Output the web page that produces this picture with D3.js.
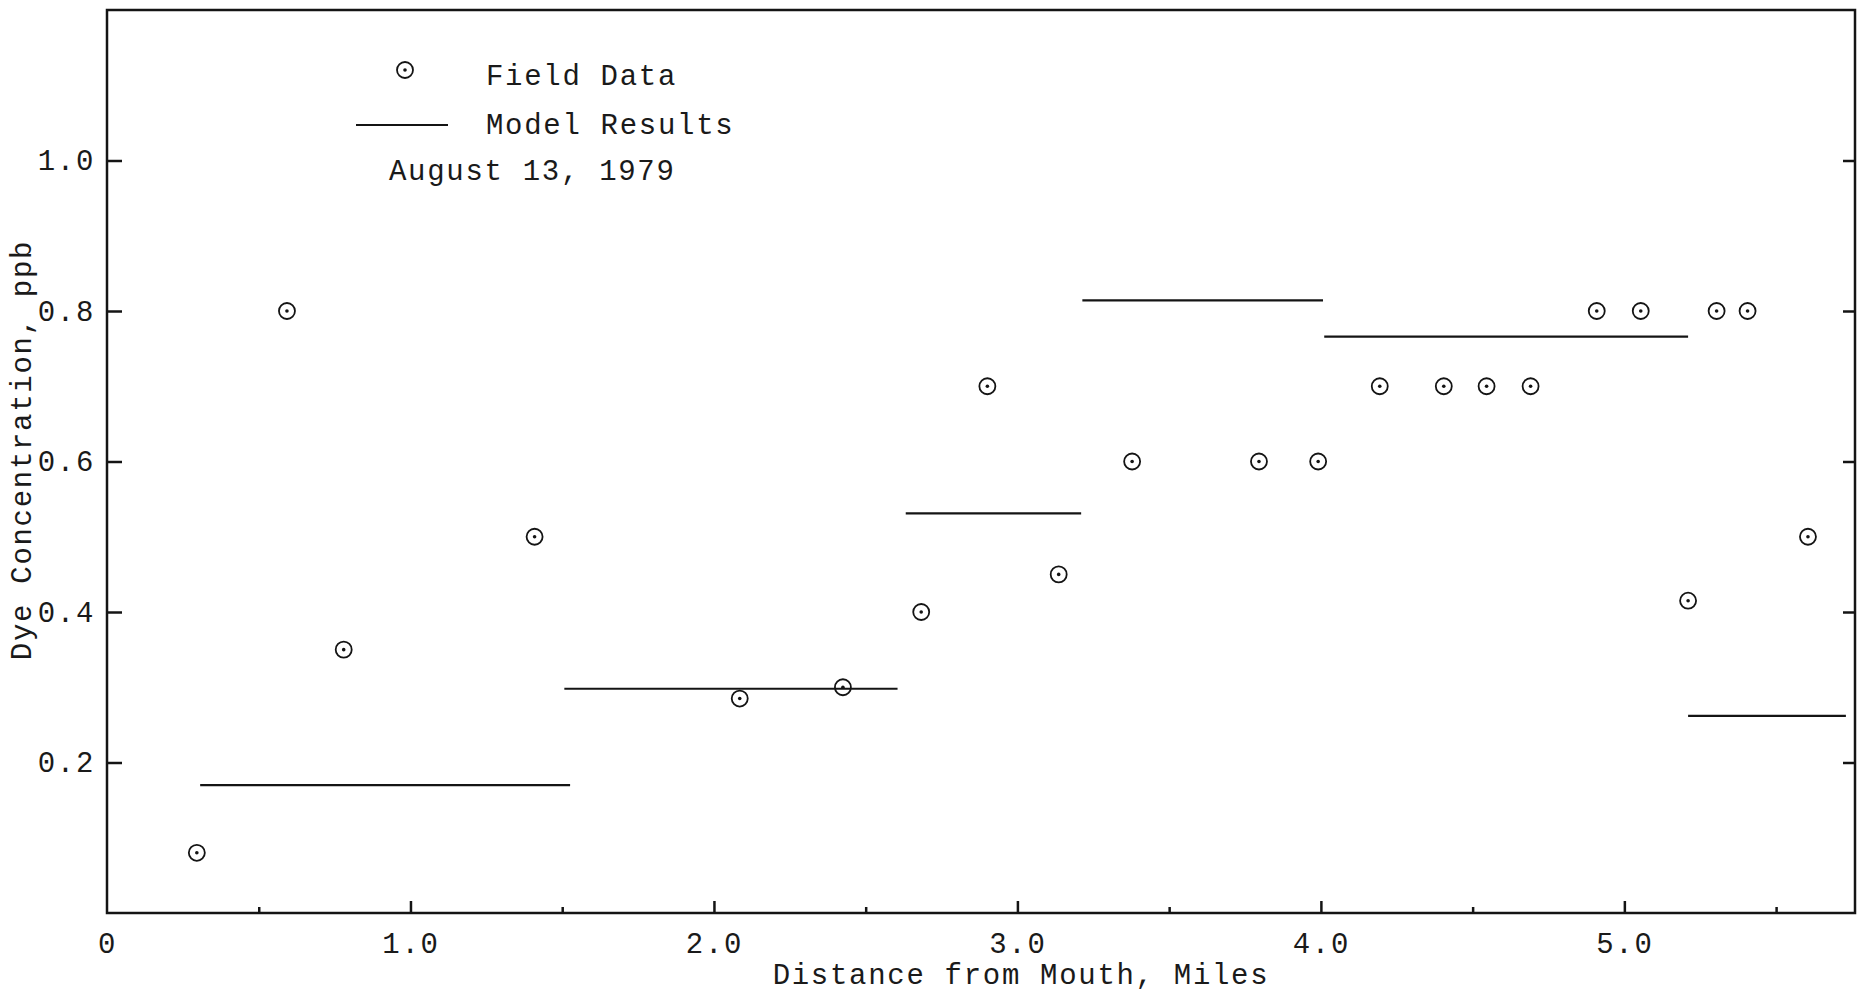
<!DOCTYPE html>
<html>
<head>
<meta charset="utf-8">
<script src="https://cdn.jsdelivr.net/npm/d3@7"></script>
<style>
  html, body { margin: 0; padding: 0; background: #fff; }
  svg { display: block; }
  text { font-family: "Liberation Mono", "DejaVu Sans Mono", monospace; fill: #1a1a1a; }
</style>
</head>
<body>
<svg id="chart" width="1859" height="992"></svg>
<script>
// Dye concentration along the river, August 13, 1979
const fieldMiles = [0.296, 0.593, 0.780, 1.409, 2.085, 2.425, 2.683, 2.901, 3.136, 3.378, 3.796,
                    3.991, 4.194, 4.405, 4.546, 4.691, 4.909, 5.054, 5.210, 5.304, 5.406, 5.605];
const fieldPpb   = [0.08, 0.80, 0.35, 0.50, 0.285, 0.30, 0.40, 0.70, 0.45, 0.60, 0.60,
                    0.60, 0.70, 0.70, 0.70, 0.70, 0.80, 0.80, 0.415, 0.80, 0.80, 0.50];

// Model segments: each constant over a reach of the river
const modelStart = [0.307, 1.507, 2.632, 3.214, 4.011, 5.210];
const modelEnd   = [1.526, 2.605, 3.210, 4.007, 5.210, 5.730];
const modelPpb   = [0.170, 0.298, 0.531, 0.814, 0.766, 0.262];

const xMajorTicks = [0, 1, 2, 3, 4, 5];
const xTickLabels = ["0", "1.0", "2.0", "3.0", "4.0", "5.0"];
const xMinorTicks = [0.5, 1.5, 2.5, 3.5, 4.5, 5.5];
const yTicks = [0.2, 0.4, 0.6, 0.8, 1.0];
const yTickLabels = ["0.2", "0.4", "0.6", "0.8", "1.0"];

(function draw() {
  const svg = d3.select("#chart");
  const pl = 107, pr = 1855, pt = 10, pb = 913;

  const x = d3.scaleLinear().domain([0, 5.76]).range([pl, pr]);
  const y = d3.scaleLinear().domain([0, 1.2]).range([pb, pt]);

  const ink = "#141414";
  const fontSize = "29px";
  const spacing = "1.7px";

  // Frame
  svg.append("rect")
    .attr("x", pl).attr("y", pt)
    .attr("width", pr - pl).attr("height", pb - pt)
    .attr("fill", "none").attr("stroke", ink).attr("stroke-width", 2.5);

  // Bottom axis: major ticks with labels
  const xAxis = d3.axisBottom(x)
    .tickValues(xMajorTicks)
    .tickFormat((d, i) => xTickLabels[i])
    .tickSizeInner(-12).tickSizeOuter(0).tickPadding(19);
  const gx = svg.append("g").attr("transform", `translate(0,${pb})`).call(xAxis);
  gx.select(".domain").remove();
  gx.selectAll(".tick line").attr("stroke", ink).attr("stroke-width", 2.5);
  gx.selectAll(".tick").filter(d => d === 0).select("line").remove();
  gx.selectAll(".tick text").attr("font-size", fontSize).attr("letter-spacing", spacing)
    .attr("fill", ink).attr("font-family", null);

  // Bottom axis: minor ticks
  const xMinor = d3.axisBottom(x).tickValues(xMinorTicks).tickFormat("")
    .tickSizeInner(-6).tickSizeOuter(0);
  const gxm = svg.append("g").attr("transform", `translate(0,${pb})`).call(xMinor);
  gxm.select(".domain").remove();
  gxm.selectAll(".tick line").attr("stroke", ink).attr("stroke-width", 2.5);

  // Left axis
  const yAxis = d3.axisLeft(y)
    .tickValues(yTicks)
    .tickFormat((d, i) => yTickLabels[i])
    .tickSizeInner(-15).tickSizeOuter(0).tickPadding(12);
  const gy = svg.append("g").attr("transform", `translate(${pl},0)`).call(yAxis);
  gy.select(".domain").remove();
  gy.selectAll(".tick line").attr("stroke", ink).attr("stroke-width", 2.5);
  gy.selectAll(".tick text").attr("font-size", fontSize).attr("letter-spacing", spacing)
    .attr("fill", ink).attr("font-family", null);

  // Right axis: mirrored ticks only
  const yRight = d3.axisRight(y).tickValues(yTicks).tickFormat("")
    .tickSizeInner(-12).tickSizeOuter(0);
  const gyr = svg.append("g").attr("transform", `translate(${pr},0)`).call(yRight);
  gyr.select(".domain").remove();
  gyr.selectAll(".tick line").attr("stroke", ink).attr("stroke-width", 2.5);

  // Axis titles
  svg.append("text")
    .attr("x", 1021).attr("y", 984)
    .attr("text-anchor", "middle")
    .attr("font-size", fontSize).attr("letter-spacing", spacing)
    .text("Distance from Mouth, Miles");

  svg.append("text")
    .attr("transform", "translate(31,450) rotate(-90)")
    .attr("text-anchor", "middle")
    .attr("font-size", fontSize).attr("letter-spacing", spacing)
    .text("Dye Concentration, ppb");

  // Model results
  svg.append("g").selectAll("line")
    .data(modelPpb)
    .join("line")
    .attr("x1", (d, i) => x(modelStart[i]))
    .attr("x2", (d, i) => x(modelEnd[i]))
    .attr("y1", d => y(d))
    .attr("y2", d => y(d))
    .attr("stroke", ink).attr("stroke-width", 2.2);

  // Field data: circle with a centre dot
  function marker(g) {
    g.append("circle").attr("r", 8).attr("fill", "none")
      .attr("stroke", ink).attr("stroke-width", 1.8);
    g.append("circle").attr("r", 1.8).attr("fill", ink);
  }
  svg.append("g").selectAll("g")
    .data(fieldPpb)
    .join("g")
    .attr("transform", (d, i) => `translate(${x(fieldMiles[i])},${y(d)})`)
    .each(function () { marker(d3.select(this)); });

  // Legend
  const legend = svg.append("g");
  legend.append("g").attr("transform", "translate(405,70)").call(marker);
  legend.append("line")
    .attr("x1", 356).attr("x2", 448).attr("y1", 125).attr("y2", 125)
    .attr("stroke", ink).attr("stroke-width", 2.2);
  legend.append("text").attr("x", 486).attr("y", 85)
    .attr("font-size", fontSize).attr("letter-spacing", spacing).text("Field Data");
  legend.append("text").attr("x", 486).attr("y", 134)
    .attr("font-size", fontSize).attr("letter-spacing", spacing).text("Model Results");
  legend.append("text").attr("x", 389).attr("y", 180)
    .attr("font-size", fontSize).attr("letter-spacing", spacing).text("August 13, 1979");
})();
</script>
</body>
</html>
